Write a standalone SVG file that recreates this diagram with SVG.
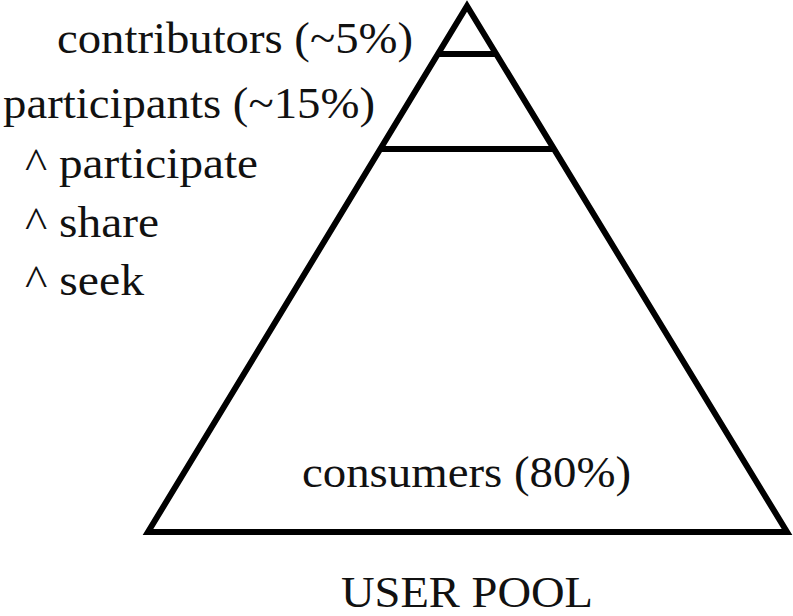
<svg xmlns="http://www.w3.org/2000/svg" width="793" height="616" viewBox="0 0 793 616">
<style>
text{font-family:"Liberation Serif","Times New Roman",serif;font-size:44px;fill:#111}
.ln{stroke:#000;stroke-width:6;fill:none}
</style>
<rect width="793" height="616" fill="#fff"/>
<g id="pyramid">
<polygon class="ln" points="467,6 148,532 787,532"/>
<line class="ln" x1="438" y1="54" x2="497" y2="54"/>
<line class="ln" x1="380" y1="149" x2="554" y2="149"/>
</g>
<g id="contributors"><text x="57" y="53" textLength="356" lengthAdjust="spacingAndGlyphs">contributors (~5%)</text></g>
<g id="participants"><text x="3" y="118" textLength="372" lengthAdjust="spacingAndGlyphs">participants (~15%)</text></g>
<g id="actions">
<text x="25" y="178" textLength="233" lengthAdjust="spacingAndGlyphs">^ participate</text>
<text x="25" y="237" textLength="134" lengthAdjust="spacingAndGlyphs">^ share</text>
<text x="25" y="295" textLength="119" lengthAdjust="spacingAndGlyphs">^ seek</text>
</g>
<g id="consumers"><text x="302" y="487" textLength="329" lengthAdjust="spacingAndGlyphs">consumers (80%)</text></g>
<g id="title"><text x="341" y="607" textLength="252" lengthAdjust="spacingAndGlyphs">USER POOL</text></g>
</svg>
